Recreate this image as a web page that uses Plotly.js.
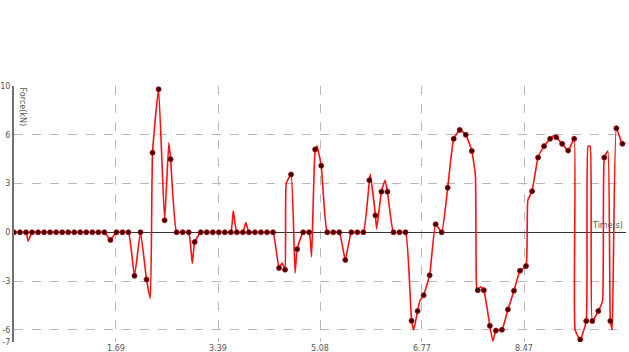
<!DOCTYPE html>
<html>
<head>
<meta charset="utf-8">
<script src="https://cdn.plot.ly/plotly-3.0.1.min.js"></script>
<style>html,body{margin:0;padding:0;background:#fff;}#chart{width:629px;height:352px;}</style>
</head>
<body>
<div id="chart"></div>
<script>
// sampled points (drawn with markers)
const sampleTime = [
  0.0,0.1,0.2,0.3,0.4,0.5,0.6,0.7,0.8,0.9,
  1.0,1.1,1.2,1.3,1.4,1.5,1.6,1.7,1.8,1.9,
  2.0,2.1,2.2,2.3,2.4,2.5,2.6,2.7,2.8,2.9,
  3.0,3.1,3.2,3.3,3.4,3.5,3.6,3.7,3.8,3.9,
  4.0,4.1,4.2,4.3,4.4,4.5,4.6,4.7,4.8,4.9,
  5.0,5.1,5.2,5.3,5.4,5.5,5.6,5.7,5.8,5.9,
  6.0,6.1,6.2,6.3,6.4,6.5,6.6,6.7,6.8,6.9,
  7.0,7.1,7.2,7.3,7.4,7.5,7.6,7.7,7.8,7.9,
  8.0,8.1,8.2,8.3,8.4,8.5,8.6,8.7,8.8,8.9,
  9.0,9.1,9.2,9.3,9.4,9.5,9.6,9.7,9.8,9.9,
  10.0,10.1
];
const sampleForce = [
  0,0,0,0,0,0,0,0,0,0,
  0,0,0,0,0,0,-0.47,0,0,0,
  -2.68,0,-2.9,4.9,8.8,0.74,4.5,0,0,0,
  -0.6,0,0,0,0,0,0,0,0,0,
  0,0,0,0,-2.2,-2.3,3.56,-1.04,0,0,
  5.1,4.1,0,0,0,-1.7,0,0,0,3.2,
  1.04,2.5,2.5,0,0,0,-5.44,-4.85,-3.87,-2.64,
  0.49,0,2.74,5.75,6.3,6.0,5.0,-3.56,-3.56,-5.75,
  -6.05,-6.0,-4.75,-3.6,-2.37,-2.08,2.53,4.6,5.3,5.75,
  5.85,5.44,5.03,5.75,-6.6,-5.46,-5.46,-4.85,4.6,-5.46,
  6.4,5.44
];
// extra points of the continuous curve between samples (no markers)
const curveTime = [0.236,2.263,2.57,2.96,3.64,3.85,4.45,4.52,4.666,4.94,5.03,5.915,6.02,6.16,6.635,6.74,7.66,7.68,7.75,7.95,8.53,8.96,9.315,9.53,9.565,9.77,9.859,9.93,10.15];
const curveForce = [-0.55,-4.07,5.5,-1.9,1.3,0.6,-1.9,3.0,-2.5,-1.5,5.3,3.56,0.2,3.2,-6.0,-4.2,3.5,-3.4,-3.35,-6.7,1.96,5.95,-6.0,5.3,5.3,-4.2,5.0,-6.0,5.5];

// axis ticks
const xTickVals = [1.693,3.387,5.08,6.773,8.467,10.16];
const xTickText = ['1.69','3.39','5.08','6.77','8.47','10.'];
const yTickVals = [-6.75,-6,-3,0,3,6,9];
const yTickText = ['-7','-6','-3','0','3','6','10'];

const merged = sampleTime.map((t,i)=>({t, f: sampleForce[i]}))
  .concat(curveTime.map((t,i)=>({t, f: curveForce[i]})))
  .sort((a,b)=>a.t-b.t);

const traces = [
  {
    x: merged.map(p=>p.t), y: merged.map(p=>p.f),
    type: 'scatter', mode: 'lines',
    line: {color: '#ff1010', width: 1.6, shape: 'spline', smoothing: 0.4},
    hoverinfo: 'skip'
  },
  {
    x: sampleTime, y: sampleForce,
    type: 'scatter', mode: 'markers',
    marker: {color: '#3f0000', size: 5, line: {color: '#b00000', width: 0.8}}
  }
];

const font = {family: 'DejaVu Sans, Arial, sans-serif', size: 8, color: '#555'};

const layout = {
  width: 629, height: 352,
  margin: {l: 14, r: 3, t: 86, b: 10, pad: 0},
  paper_bgcolor: '#ffffff', plot_bgcolor: '#ffffff',
  showlegend: false,
  font: font,
  xaxis: {
    range: [0, 10.16],
    tickmode: 'array', tickvals: xTickVals, ticktext: xTickText,
    ticks: '', showgrid: true, gridcolor: '#b8b8b8', griddash: 'dash', gridwidth: 1,
    zeroline: false, showline: false,
    tickfont: font, fixedrange: true
  },
  yaxis: {
    range: [-6.75, 9],
    tickmode: 'array', tickvals: yTickVals, ticktext: yTickText,
    ticks: '', showgrid: true, gridcolor: '#b8b8b8', griddash: 'dash', gridwidth: 1,
    zeroline: true, zerolinecolor: '#333333', zerolinewidth: 1.2,
    showline: true, linecolor: '#707070', linewidth: 2,
    tickfont: font, fixedrange: true
  },
  annotations: [
    {text: 'Force(kN)', xref: 'paper', yref: 'paper', x: 0.004, y: 1.0,
     xanchor: 'left', yanchor: 'top', textangle: 90, showarrow: false,
     font: {family: 'DejaVu Sans, Arial, sans-serif', size: 8, color: '#555'}},
    {text: 'Time(s)', xref: 'paper', yref: 'y', x: 0.998, y: 0,
     xanchor: 'right', yanchor: 'bottom', showarrow: false,
     font: {family: 'DejaVu Sans, Arial, sans-serif', size: 8, color: '#555'}}
  ]
};

Plotly.newPlot('chart', traces, layout, {displayModeBar: false, staticPlot: true});
</script>
</body>
</html>
